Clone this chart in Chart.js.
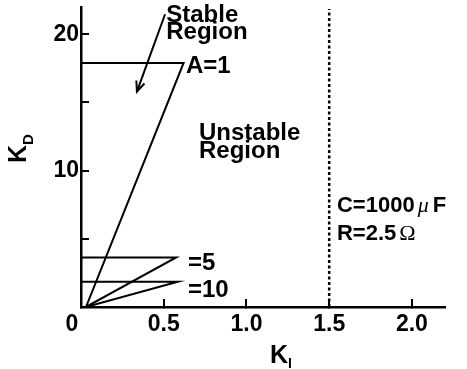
<!DOCTYPE html>
<html>
<head>
<meta charset="utf-8">
<script src="https://cdn.jsdelivr.net/npm/chart.js@4"></script>
<style>
  html, body { margin: 0; padding: 0; background: #fff; }
  #wrap { width: 467px; height: 369px; position: relative; }
</style>
</head>
<body>
<div id="wrap"><canvas id="c" width="467" height="369"></canvas></div>
<script>
// ---- data ----
const seriesNames   = ['A=1', '=5', '=10'];
const kdLevels      = [17.9, 3.63, 1.86];   // horizontal edge (K_D)
const kiEdges       = [0.62, 0.575, 0.585]; // right corner (K_I)
const kiApex        = [0.03, 0.03, 0.03];   // lower vertex (K_I at K_D = 0)
const stabilityKI   = 1.5;                  // dashed vertical line
const kiTicks       = [0, 0.5, 1.0, 1.5, 2.0];
const kiTickLabels  = ['', '0.5', '1.0', '1.5', '2.0'];
const kdTicks       = [0, 5, 10, 15, 20];
const kdTickLabels  = ['', '', '10', '', '20'];

const FONT = 'Liberation Sans, Arial, Helvetica, sans-serif';

const datasets = seriesNames.map((name, i) => ({
  label: name,
  data: [
    { x: 0, y: kdLevels[i] },
    { x: kiEdges[i], y: kdLevels[i] },
    { x: kiApex[i], y: 0 }
  ],
  showLine: true,
  borderColor: '#000',
  borderWidth: 2,
  pointRadius: 0,
  fill: false,
  tension: 0
}));
datasets.push({
  label: 'limit',
  data: [{ x: stabilityKI, y: 0 }, { x: stabilityKI, y: 21.85 }],
  showLine: true,
  borderColor: '#000',
  borderWidth: 2.5,
  borderDash: [3, 2.5],
  pointRadius: 0
});

const annot = {
  id: 'annot',
  afterDraw(chart) {
    const ctx = chart.ctx;
    const xs = chart.scales.x, ys = chart.scales.y;
    const px = v => xs.getPixelForValue(v);
    const py = v => ys.getPixelForValue(v);
    ctx.save();
    ctx.fillStyle = '#000';
    ctx.strokeStyle = '#000';
    ctx.textBaseline = 'alphabetic';
    ctx.textAlign = 'left';
    const bold = s => `bold ${s}px ${FONT}`;

    // origin "0"
    ctx.font = bold(23);
    ctx.textAlign = 'center';
    ctx.fillText('0', px(0) - 9, 331);
    ctx.textAlign = 'left';

    // series labels
    ctx.font = bold(24);
    ctx.fillText(seriesNames[0], px(0.634), py(17.13));
    ctx.fillText(seriesNames[1], px(0.646), py(2.72));
    ctx.fillText(seriesNames[2], px(0.646), py(0.74));

    // Stable Region
    ctx.fillText('Stable', px(0.515), py(20.88));
    ctx.fillText('Region', px(0.515), py(20.88) + 17);
    // Unstable Region
    ctx.fillText('Unstable', px(0.713), py(12.28));
    ctx.fillText('Region', px(0.713), py(12.28) + 18);

    // C=1000 μF / R=2.5 Ω
    let x0 = px(1.547), b1 = py(6.99), b2 = py(4.93);
    ctx.font = bold(22);
    ctx.fillText('C=1000', x0, b1);
    let w = ctx.measureText('C=1000').width;
    ctx.font = `italic 22px "Liberation Serif", "DejaVu Serif", serif`;
    ctx.fillText('\u03BC', x0 + w + 3, b1);
    let w2 = ctx.measureText('\u03BC').width;
    ctx.font = bold(22);
    ctx.fillText('F', x0 + w + 3 + w2 + 4, b1);
    ctx.fillText('R=2.5', x0, b2);
    w = ctx.measureText('R=2.5').width;
    ctx.font = `22px "Liberation Serif", "DejaVu Serif", serif`;
    ctx.fillText('\u03A9', x0 + w + 3, b2);

    // arrow
    const ax1 = px(0.508), ay1 = py(21.47), ax2 = px(0.338), ay2 = py(15.8);
    ctx.lineWidth = 2;
    ctx.beginPath();
    ctx.moveTo(ax1, ay1);
    ctx.lineTo(ax2, ay2);
    ctx.stroke();
    const ang = Math.atan2(ay2 - ay1, ax2 - ax1);
    const L = 11, spread = 0.4;
    ctx.beginPath();
    ctx.moveTo(ax2 - L * Math.cos(ang - spread), ay2 - L * Math.sin(ang - spread));
    ctx.lineTo(ax2, ay2);
    ctx.lineTo(ax2 - L * Math.cos(ang + spread), ay2 - L * Math.sin(ang + spread));
    ctx.stroke();

    // axis titles
    ctx.font = bold(25);
    ctx.fillText('K', 270, 363);
    let kw = ctx.measureText('K').width;
    ctx.font = bold(14);
    ctx.fillText('I', 270 + kw, 368);

    ctx.translate(26, 163);
    ctx.rotate(-Math.PI / 2);
    ctx.font = bold(25);
    ctx.fillText('K', 0, 0);
    kw = ctx.measureText('K').width;
    ctx.font = bold(15);
    ctx.fillText('D', kw, 7);
    ctx.restore();
  }
};

const noPad = s => { s.paddingTop = 0; s.paddingBottom = 0; s.paddingLeft = 0; s.paddingRight = 0; };

new Chart(document.getElementById('c'), {
  type: 'scatter',
  data: { datasets },
  options: {
    responsive: false,
    animation: false,
    devicePixelRatio: 1,
    layout: { padding: { top: 7, right: 22, left: 0, bottom: 0 } },
    plugins: { legend: { display: false }, tooltip: { enabled: false } },
    scales: {
      x: {
        type: 'linear', min: 0, max: 2.2,
        afterBuildTicks: s => { s.ticks = kiTicks.map(v => ({ value: v })); },
        afterFit: s => { s.height = 62; noPad(s); },
        ticks: {
          callback: (v, i) => kiTickLabels[i],
          color: '#000', font: { family: FONT, size: 23, weight: 'bold' },
          padding: 12, maxRotation: 0, autoSkip: false
        },
        grid: { drawOnChartArea: false, drawTicks: true, tickLength: -8, color: '#000', lineWidth: 2 },
        border: { display: true, color: '#000', width: 2.5 }
      },
      y: {
        type: 'linear', min: 0, max: 22,
        afterBuildTicks: s => { s.ticks = kdTicks.map(v => ({ value: v })); },
        afterFit: s => { s.width = 81; noPad(s); },
        ticks: {
          callback: (v, i) => kdTickLabels[i],
          color: '#000', font: { family: FONT, size: 23, weight: 'bold' },
          padding: 10, autoSkip: false
        },
        grid: { drawOnChartArea: false, drawTicks: true, tickLength: -8, color: '#000', lineWidth: 2 },
        border: { display: true, color: '#000', width: 2.5 }
      }
    }
  },
  plugins: [annot]
});
</script>
</body>
</html>
